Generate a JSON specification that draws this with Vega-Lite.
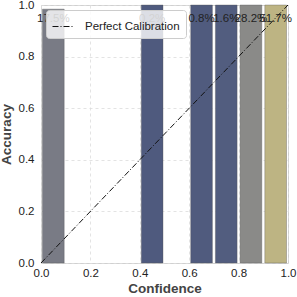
{
  "$schema": "https://vega.github.io/schema/vega-lite/v6.json",
  "autosize": {"type": "none"},
  "width": 247,
  "height": 258,
  "padding": {"left": 41, "top": 5, "right": 9, "bottom": 34},
  "config": {
    "font": "Liberation Sans",
    "view": {"stroke": "#d0d0d0", "strokeWidth": 1},
    "axis": {
      "domain": false,
      "ticks": false,
      "grid": true,
      "labelFlush": false,
      "gridColor": "#dcdcdc",
      "gridDash": [3, 3],
      "gridWidth": 0.8,
      "labelFont": "Liberation Sans",
      "labelFontSize": 11.5,
      "labelColor": "#222222",
      "titleFont": "Liberation Sans",
      "titleFontSize": 13.5,
      "titleFontWeight": "bold",
      "titleColor": "#444444"
    }
  },
  "data": {
    "values": [
      {"lo": 0.0, "hi": 0.1, "mid": 0.05, "accuracy": 0.984, "pct": 17.5, "label": "17.5%"},
      {"lo": 0.4, "hi": 0.5, "mid": 0.45, "accuracy": 1.0, "pct": 0.2, "label": "0.2%"},
      {"lo": 0.6, "hi": 0.7, "mid": 0.65, "accuracy": 1.0, "pct": 0.8, "label": "0.8%"},
      {"lo": 0.7, "hi": 0.8, "mid": 0.75, "accuracy": 1.0, "pct": 1.6, "label": "1.6%"},
      {"lo": 0.8, "hi": 0.9, "mid": 0.85, "accuracy": 1.0, "pct": 28.2, "label": "28.2%"},
      {"lo": 0.9, "hi": 1.0, "mid": 0.95, "accuracy": 1.0, "pct": 51.7, "label": "51.7%"}
    ]
  },
  "layer": [
    {
      "mark": {"type": "rect", "xOffset": 1.5, "x2Offset": -1.5, "stroke": "#555555", "strokeWidth": 0.6, "strokeOpacity": 0.6},
      "encoding": {
        "x": {"field": "lo", "type": "quantitative", "scale": {"domain": [0, 1], "nice": false}, "axis": {"title": "Confidence", "values": [0, 0.2, 0.4, 0.6, 0.8, 1.0], "format": ".1f", "labelPadding": 4, "titlePadding": 3}},
        "x2": {"field": "hi"},
        "y": {"field": "accuracy", "type": "quantitative", "scale": {"domain": [0, 1], "nice": false}, "axis": {"title": "Accuracy", "values": [0, 0.2, 0.4, 0.6, 0.8, 1.0], "format": ".1f", "labelPadding": 7, "titlePadding": 5}},
        "y2": {"datum": 0},
        "fill": {"field": "pct", "type": "quantitative", "scale": {"domain": [0, 17.5, 28.2, 51.7], "range": ["#4e5a7e", "#797b85", "#8a8a88", "#bdb483"]}, "legend": null}
      }
    },
    {
      "mark": {"type": "text", "fontSize": 11.5, "color": "#222222", "baseline": "middle", "align": "center"},
      "encoding": {
        "x": {"field": "mid", "type": "quantitative"},
        "y": {"datum": 0.945, "type": "quantitative"},
        "text": {"field": "label", "type": "nominal"}
      }
    },
    {
      "data": {"values": [{"c": 0, "a": 0, "s": "Perfect Calibration"}, {"c": 1, "a": 1, "s": "Perfect Calibration"}]},
      "mark": {"type": "line", "strokeDash": [6, 2, 1, 2], "strokeWidth": 1},
      "encoding": {
        "x": {"field": "c", "type": "quantitative"},
        "y": {"field": "a", "type": "quantitative"},
        "stroke": {"field": "s", "type": "nominal", "scale": {"range": ["#111111"]},
          "legend": {"title": null, "orient": "top-left", "offset": 5, "symbolType": "stroke", "symbolDash": [6, 2, 1, 2], "symbolSize": 400, "symbolStrokeWidth": 1, "labelOffset": 12, "labelFontSize": 11.5, "labelColor": "#222222", "labelFont": "Liberation Sans", "fillColor": "rgba(255,255,255,0.8)", "strokeColor": "#cccccc", "cornerRadius": 3, "padding": 6}
        }
      }
    }
  ]
}
